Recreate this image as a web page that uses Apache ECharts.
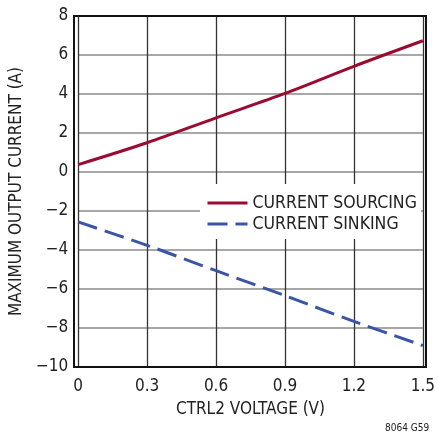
<!DOCTYPE html>
<html><head><meta charset="utf-8">
<script src="https://cdn.jsdelivr.net/npm/echarts@6/dist/echarts.min.js"></script>
<style>html,body{margin:0;padding:0;background:#fff}#c{width:438px;height:435px}</style>
</head><body><div id="c"></div>
<script>
const voltage = [0, 0.3, 0.6, 0.9, 1.2, 1.5];
const sourcing = [0.38, 1.5, 2.78, 4.03, 5.42, 6.73];
const sinking = [-2.56, -3.76, -5.06, -6.34, -7.66, -8.9];
const seriesNames = ['CURRENT SOURCING', 'CURRENT SINKING'];
const xTicks = ['0', '0.3', '0.6', '0.9', '1.2', '1.5'];
const FONT = '"DejaVu Sans Condensed", "Liberation Sans Narrow", sans-serif';
const chart = echarts.init(document.getElementById('c'), null, {renderer: 'canvas'});
chart.setOption({
  animation: false,
  grid: {left: 74, top: 16, width: 352, height: 351, show: false},
  xAxis: {
    type: 'value', min: 0, max: 1.5, interval: 0.3,
    name: 'CTRL2 VOLTAGE (V)', nameLocation: 'middle', nameGap: 34,
    nameTextStyle: {fontFamily: FONT, fontSize: 17, color: '#222'},
    axisLine: {show: false}, axisTick: {show: false},
    axisLabel: {fontFamily: FONT, fontSize: 17, color: '#222', margin: 11,
      formatter: v => xTicks[Math.round(v / 0.3)]},
    splitLine: {show: true, lineStyle: {color: '#333', width: 1.3}}
  },
  yAxis: {
    type: 'value', min: -10, max: 8, interval: 2,
    name: 'MAXIMUM OUTPUT CURRENT (A)', nameLocation: 'middle', nameGap: 46,
    nameTextStyle: {fontFamily: FONT, fontSize: 17, color: '#222'},
    axisLine: {show: false}, axisTick: {show: false},
    axisLabel: {fontFamily: FONT, fontSize: 17, color: '#222', margin: 10,
      formatter: v => (v < 0 ? '\u2212' + Math.abs(v) : String(v))},
    splitLine: {show: true, lineStyle: {color: '#8a8a8a', width: 1.5}}
  },
  graphic: [
    {type: 'rect', z: 5, shape: {x: 200, y: 184, width: 221, height: 55}, style: {fill: '#fff'}},
    {type: 'rect', z: 6, shape: {x: 74, y: 16, width: 352, height: 351}, style: {fill: 'none', stroke: '#111', lineWidth: 2}},
    {type: 'text', z: 6, left: 385, top: 423, style: {text: '8064 G59', font: '10px ' + FONT, fill: '#222'}}
  ],
  legend: {
    z: 10, orient: 'vertical', left: 200, top: 184, padding: [10, 4, 7, 6],
    itemWidth: 40, itemHeight: 14, itemGap: 3,
    itemStyle: {opacity: 0},
    lineStyle: {width: 3},
    textStyle: {fontFamily: FONT, fontSize: 17.5, color: '#222'},
    data: seriesNames
  },
  series: [
    {name: seriesNames[0], type: 'line', smooth: 0.3, symbol: 'none',
      data: voltage.map((x, i) => [x, sourcing[i]]),
      lineStyle: {color: '#9b0b31', width: 3}, itemStyle: {color: '#9b0b31'}},
    {name: seriesNames[1], type: 'line', smooth: 0.3, symbol: 'none',
      data: voltage.map((x, i) => [x, sinking[i]]),
      lineStyle: {color: '#3a55a6', width: 3, type: [20, 8]}, itemStyle: {color: '#3a55a6'}}
  ]
});
</script></body></html>
